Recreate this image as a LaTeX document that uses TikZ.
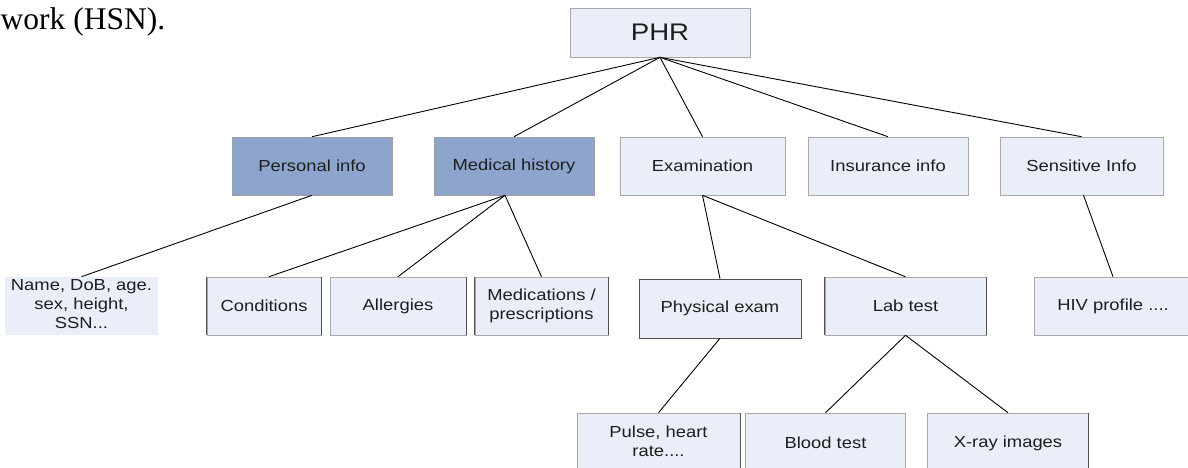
\documentclass[tikz,border=0pt]{standalone}
\usepackage{fontspec}
\setmainfont{Liberation Sans}
\newfontfamily\serifrm{Liberation Serif}
\usepackage{graphicx}
\definecolor{boxfill}{HTML}{EAEEF8}
\definecolor{bluefill}{HTML}{8DA5CD}
\definecolor{edgegray}{HTML}{A8A8A8}
\definecolor{darkedge}{HTML}{505050}
\definecolor{txt}{HTML}{1E1E1E}
\newcommand{\sx}[1]{\scalebox{1.15}[1]{#1}}
\newcommand{\sxl}[1]{\scalebox{1.15}[1]{\begin{tabular}{@{}c@{}}#1\end{tabular}}}
\tikzset{
  lbox/.style={draw=edgegray, fill=boxfill, line width=0.6pt, inner sep=0pt,
    text=txt, font=\fontsize{16}{19}\selectfont},
  bbox/.style={lbox, fill=bluefill, draw=gray!75},
  conn/.style={draw=black, line width=0.9pt},
  side/.style={draw=darkedge, line width=0.9pt},
}
\begin{document}
\begin{tikzpicture}[x=1pt, y=-1pt]
\useasboundingbox (0,0) rectangle (1188,467);
\clip (0,0) rectangle (1188,467);
\fill[white] (0,0) rectangle (1188,467);

% stray text from the page
\node[anchor=base west, inner sep=0pt, font=\serifrm\fontsize{31.5}{36}\selectfont] (hsn) at (0.5,29.5) {work (HSN).};

% root
\node[lbox, minimum width=180, minimum height=49, font=\fontsize{24}{28}\selectfont] (phr) at (660,32.5) {\sx{PHR}};

% row 1
\node[bbox, minimum width=160, minimum height=58] (pers) at (312,166) {\sx{Personal info}};
\node[bbox, minimum width=160, minimum height=58] (med) at (514,166) {\sx{Medical history}};
\node[lbox, minimum width=165, minimum height=58] (exam) at (702.5,166) {\sx{Examination}};
\node[lbox, minimum width=160, minimum height=58] (ins) at (888,166) {\sx{Insurance info}};
\node[lbox, minimum width=163, minimum height=58] (sens) at (1081.5,166) {\sx{Sensitive Info}};

% row 2
\node[lbox, draw=none, minimum width=153, minimum height=58] (name) at (81.5,306) {\sxl{Name, DoB, age.\\ sex, height,\\ SSN...}};
\node[lbox, minimum width=114, minimum height=58] (cond) at (264,306) {\sx{Conditions}};
\node[lbox, minimum width=136, minimum height=58] (allg) at (398,306) {\sx{Allergies}};
\node[lbox, minimum width=133, minimum height=58] (meds) at (541.5,306) {\sxl{Medications /\\ prescriptions}};
\node[lbox, draw=darkedge, minimum width=162, minimum height=59] (phys) at (720,308.5) {\sx{Physical exam}};
\node[lbox, minimum width=161, minimum height=58] (lab) at (905.5,306) {\sx{Lab test}};
\node[lbox, minimum width=158, minimum height=58] (hiv) at (1113,306) {\sx{HIV profile ....}};

% row 3
\node[lbox, minimum width=163, minimum height=60] (pulse) at (658.5,443) {\sxl{Pulse, heart\\ rate....}};
\node[lbox, minimum width=160, minimum height=60] (blood) at (825.5,443) {\sx{Blood test}};
\node[lbox, minimum width=161, minimum height=60] (xray) at (1008,443) {\sx{X-ray images}};

% darker box sides
\draw[side] (cond.north west) -- (cond.south west) (cond.north east) -- (cond.south east);
\draw[side] (allg.north east) -- (allg.south east);
\draw[side] (meds.north west) -- (meds.south west) (meds.north east) -- (meds.south east);
\draw[side] (lab.north west) -- (lab.south west) (lab.north east) -- (lab.south east);
\draw[side] (pulse.north east) -- (pulse.south east);
\draw[side] (xray.north east) -- (xray.south east);

% connectors
\draw[conn] (phr.south) -- (pers.north);
\draw[conn] (phr.south) -- (med.north);
\draw[conn] (phr.south) -- (exam.north);
\draw[conn] (phr.south) -- (ins.north);
\draw[conn] (phr.south) -- (sens.north);

\draw[conn] (pers.south) -- (name.north);
\coordinate (mhb) at ([xshift=-9pt]med.south);
\draw[conn] (mhb) -- ([xshift=5pt]cond.north);
\draw[conn] (mhb) -- (allg.north);
\draw[conn] (mhb) -- (meds.north);

\draw[conn] (exam.south) -- (phys.north);
\draw[conn] (exam.south) -- (lab.north);
\draw[conn] ([xshift=2pt]sens.south) -- (hiv.north);

\draw[conn] (phys.south) -- (pulse.north);
\draw[conn] (lab.south) -- (blood.north);
\draw[conn] (lab.south) -- (xray.north);
\end{tikzpicture}
\end{document}
